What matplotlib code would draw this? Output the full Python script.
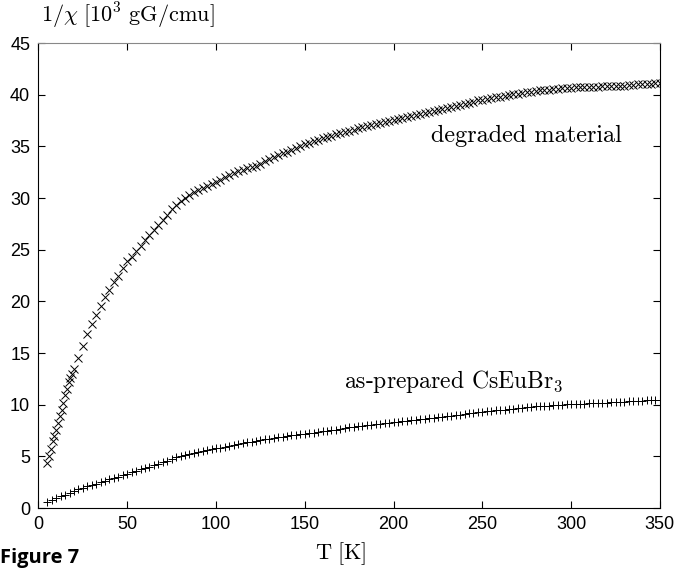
import matplotlib
matplotlib.use('Agg')
import matplotlib.pyplot as plt

plt.rcParams['mathtext.fontset'] = 'cm'

# temperature grid (K)
t_low = [5, 6, 7, 8, 9, 10, 11, 12, 13, 14, 15, 16, 17, 18, 19]
t_grid = [5, 7.5, 10, 12.5, 15, 17.5, 20, 22.5, 25, 27.5,
          30, 32.5, 35, 37.5, 40, 42.5, 45, 47.5, 50, 52.5,
          55, 57.5, 60, 62.5, 65, 67.5, 70, 72.5, 75, 77.5,
          80, 82.5, 85, 87.5, 90, 92.5, 95, 97.5, 100, 102.5,
          105, 107.5, 110, 112.5, 115, 117.5, 120, 122.5, 125, 127.5,
          130, 132.5, 135, 137.5, 140, 142.5, 145, 147.5, 150, 152.5,
          155, 157.5, 160, 162.5, 165, 167.5, 170, 172.5, 175, 177.5,
          180, 182.5, 185, 187.5, 190, 192.5, 195, 197.5, 200, 202.5,
          205, 207.5, 210, 212.5, 215, 217.5, 220, 222.5, 225, 227.5,
          230, 232.5, 235, 237.5, 240, 242.5, 245, 247.5, 250, 252.5,
          255, 257.5, 260, 262.5, 265, 267.5, 270, 272.5, 275, 277.5,
          280, 282.5, 285, 287.5, 290, 292.5, 295, 297.5, 300, 302.5,
          305, 307.5, 310, 312.5, 315, 317.5, 320, 322.5, 325, 327.5,
          330, 332.5, 335, 337.5, 340, 342.5, 345, 347.5, 350]

# degraded material: 1/chi (10^3 gG/cmu)
t_deg = t_low + t_grid[6:]
chi_deg = [4.4, 5.0, 5.7, 6.5, 7.0, 7.6, 8.2, 8.9, 9.5, 10.2, 10.9, 11.5, 12.2, 12.6, 13.0,
           13.5, 14.5, 15.7, 16.8, 17.8, 18.7, 19.6, 20.4, 21.1, 21.9,
           22.5, 23.2, 23.9, 24.3, 24.9, 25.4, 25.9, 26.4, 26.9, 27.4,
           27.9, 28.4, 28.9, 29.3, 29.7, 30.0, 30.3, 30.6, 30.8, 31.0,
           31.2, 31.4, 31.6, 31.75, 32.0, 32.2, 32.4, 32.6, 32.75, 32.9,
           33.0, 33.1, 33.35, 33.6, 33.8, 34.0, 34.2, 34.35, 34.5, 34.7,
           34.85, 35.0, 35.2, 35.35, 35.5, 35.65, 35.8, 35.95, 36.05, 36.2,
           36.3, 36.4, 36.5, 36.6, 36.75, 36.85, 36.95, 37.05, 37.15, 37.25,
           37.35, 37.45, 37.55, 37.65, 37.75, 37.85, 37.95, 38.05, 38.15, 38.25,
           38.35, 38.45, 38.55, 38.65, 38.75, 38.85, 38.95, 39.05, 39.15, 39.25,
           39.35, 39.45, 39.5, 39.6, 39.7, 39.75, 39.8, 39.9, 40.0, 40.05,
           40.1, 40.2, 40.25, 40.3, 40.4, 40.45, 40.5, 40.5, 40.55, 40.6,
           40.65, 40.7, 40.7, 40.75, 40.75, 40.8, 40.8, 40.8, 40.8, 40.85,
           40.85, 40.85, 40.9, 40.9, 40.9, 40.95, 40.95, 41.0, 41.0, 41.05,
           41.05, 41.1, 41.1]

# as-prepared CsEuBr3
t_prep = t_grid
chi_prep = [0.6, 0.8, 1.0, 1.15, 1.3, 1.45, 1.6, 1.8, 1.95, 2.1,
            2.2, 2.35, 2.5, 2.65, 2.8, 2.9, 3.05, 3.2, 3.3, 3.45,
            3.6, 3.75, 3.9, 4.0, 4.2, 4.3, 4.5, 4.6, 4.75, 4.9,
            5.0, 5.1, 5.2, 5.3, 5.4, 5.5, 5.6, 5.7, 5.8, 5.85,
            5.95, 6.0, 6.1, 6.2, 6.25, 6.35, 6.4, 6.5, 6.55, 6.65,
            6.7, 6.75, 6.85, 6.9, 6.95, 7.05, 7.1, 7.15, 7.2, 7.25,
            7.3, 7.4, 7.45, 7.5, 7.55, 7.6, 7.65, 7.75, 7.8, 7.85,
            7.9, 7.95, 8.0, 8.05, 8.1, 8.15, 8.2, 8.25, 8.3, 8.35,
            8.4, 8.45, 8.5, 8.55, 8.6, 8.65, 8.7, 8.75, 8.8, 8.85,
            8.9, 8.95, 9.0, 9.05, 9.1, 9.15, 9.2, 9.25, 9.3, 9.35,
            9.4, 9.45, 9.5, 9.5, 9.55, 9.6, 9.65, 9.7, 9.75, 9.8,
            9.85, 9.85, 9.9, 9.9, 9.95, 10.0, 10.0, 10.05, 10.05, 10.1,
            10.1, 10.1, 10.15, 10.15, 10.2, 10.2, 10.2, 10.25, 10.25, 10.3,
            10.3, 10.35, 10.35, 10.4, 10.4, 10.45, 10.45, 10.5, 10.5]

fig = plt.figure(figsize=(6.81, 5.68), dpi=100)
ax = fig.add_axes([0.0565, 0.1056, 0.9125, 0.8184])

ax.plot(t_deg, chi_deg, 'x', color='black', markersize=6, markeredgewidth=0.7)
ax.plot(t_prep, chi_prep, '+', color='black', markersize=6, markeredgewidth=0.7)

ax.set_xlim(0, 350)
ax.set_ylim(0, 45)
ax.set_xticks(range(0, 351, 50))
ax.set_yticks(range(0, 46, 5))
ax.tick_params(direction='in', length=5, top=True, right=True, labelsize=13, pad=6)
for lab in ax.get_xticklabels() + ax.get_yticklabels():
    lab.set_fontfamily('Liberation Sans')
ax.spines['top'].set_color('#888888')

ax.text(275, 36, 'degraded material', fontsize=17.5, family='cmr10', ha='center', va='center')
ax.text(234, 12.2, r'as-prepared CsEuBr$_3$', fontsize=17, family='cmr10', ha='center', va='center')

fig.text(0.06, 0.945, r'$1/\chi\ [10^3\ \mathrm{gG/cmu}]$', fontsize=16, ha='left', va='bottom')
fig.text(0.5, 0.002, r'$\mathrm{T\ [K]}$', fontsize=16, ha='center', va='bottom')
fig.text(0.0, 0.036, 'Figure 7', fontsize=14.5, fontweight='bold', family='Open Sans',
         ha='left', va='top')

fig.savefig('out.png', dpi=100)
